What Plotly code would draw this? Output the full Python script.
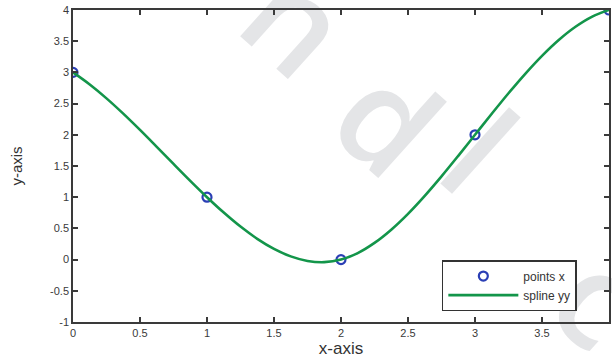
import plotly.graph_objects as go

# data points
points_x = [0, 1, 2, 3, 4]
points_y = [3, 1, 0, 2, 4]

# spline curve values
spline_x = [0, 0.125, 0.25, 0.375, 0.5, 0.625, 0.75, 0.875, 1,
            1.125, 1.25, 1.375, 1.5, 1.625, 1.75, 1.875, 2,
            2.125, 2.25, 2.375, 2.5, 2.625, 2.75, 2.875, 3,
            3.125, 3.25, 3.375, 3.5, 3.625, 3.75, 3.875, 4]
spline_y = [3, 2.806, 2.584, 2.339, 2.078, 1.807, 1.533, 1.262, 1,
            0.754, 0.529, 0.333, 0.172, 0.052, -0.021, -0.041, 0,
            0.105, 0.268, 0.480, 0.734, 1.022, 1.334, 1.663, 2,
            2.337, 2.666, 2.978, 3.266, 3.520, 3.732, 3.895, 4]

x_ticks = [0, 0.5, 1, 1.5, 2, 2.5, 3, 3.5, 4]
x_ticktext = ["0", "0.5", "1", "1.5", "2", "2.5", "3", "3.5", "4"]
y_ticks = [-1, -0.5, 0, 0.5, 1, 1.5, 2, 2.5, 3, 3.5, 4]
y_ticktext = ["-1", "-0.5", "0", "0.5", "1", "1.5", "2", "2.5", "3", "3.5", "4"]

watermark_letters = ["n", "d", "l", "c"]

fig = go.Figure()
fig.add_trace(go.Scatter(
    x=points_x, y=points_y, mode="markers", name="points x",
    marker=dict(symbol="circle-open", size=9, color="#2b3fb5", line=dict(width=2.2)),
))
fig.add_trace(go.Scatter(
    x=spline_x, y=spline_y, mode="lines", name="spline yy",
    line=dict(color="#13954a", width=2.6, shape="spline", smoothing=1),
))

# faint watermark letters (below the data)
wm_pos = [(0.41, 0.95), (0.58, 0.63), (0.75, 0.53), (0.975, 0.06)]
for ch, (px, py) in zip(watermark_letters, wm_pos):
    fig.add_shape(
        type="rect", xref="paper", yref="paper",
        x0=px - 0.05, x1=px + 0.05, y0=py - 0.05, y1=py + 0.05,
        line=dict(width=0), fillcolor="rgba(0,0,0,0)", layer="below",
        label=dict(text=ch, textangle=42,
                   font=dict(size=135, color="#e4e5e7", family="Open Sans", weight=600),
                   textposition="middle center"),
    )

axis_common = dict(
    showgrid=False, zeroline=False, showline=True, linecolor="#3a3a3a", linewidth=1.5,
    mirror="ticks", ticks="inside", ticklen=5, tickwidth=1.5, tickcolor="#3a3a3a",
    tickfont=dict(family="Liberation Sans, Arial", size=11, color="#3a3a3a"),
)
fig.update_xaxes(range=[0, 4], tickvals=x_ticks, ticktext=x_ticktext,
                 title=dict(text="x-axis", font=dict(family="Liberation Sans, Arial", size=17, color="#333"), standoff=4),
                 **axis_common)
fig.update_yaxes(range=[-1, 4], tickvals=y_ticks, ticktext=y_ticktext,
                 title=dict(text="y-axis", font=dict(family="Liberation Sans, Arial", size=15, color="#333"), standoff=24),
                 **axis_common)

fig.update_layout(
    width=612, height=362,
    margin=dict(l=73, r=1, t=10, b=40),
    paper_bgcolor="white", plot_bgcolor="white",
    showlegend=True,
    legend=dict(
        x=0.94, y=0.035, xanchor="right", yanchor="bottom",
        bgcolor="white", bordercolor="#333", borderwidth=1.5,
        font=dict(family="Liberation Sans, Arial", size=12, color="#333"),
        itemwidth=70, tracegroupgap=0,
    ),
)

fig.write_html("out.html")
